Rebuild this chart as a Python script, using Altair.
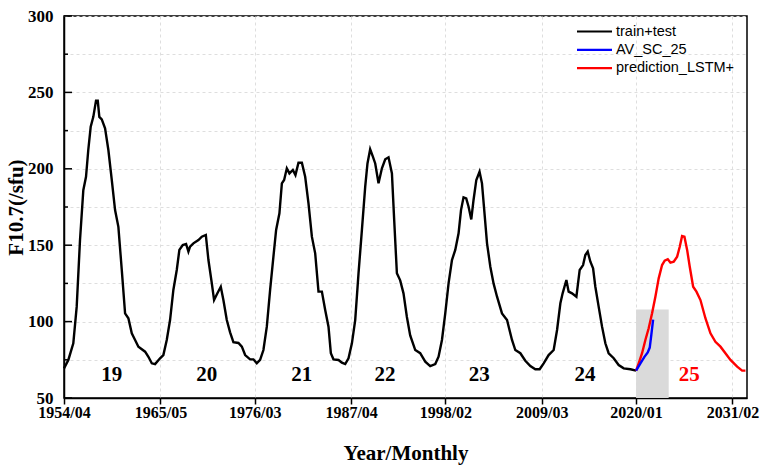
import altair as alt
import pandas as pd

# ---- data (decimal year, F10.7 sfu) ----
train_year = [1954.25, 1954.75, 1955.32, 1955.71, 1956.09, 1956.47, 1956.78, 1957.04, 1957.32, 1957.62,
              1957.93, 1958.13, 1958.31, 1958.59, 1958.97, 1959.35, 1959.74, 1960.12, 1960.50, 1960.89,
              1961.27, 1961.65, 1962.04, 1962.42, 1962.80, 1963.57, 1963.95, 1964.34, 1964.72, 1965.29,
              1965.67, 1966.06, 1966.44, 1966.82, 1967.21, 1967.51, 1967.90, 1968.28, 1968.55, 1968.74,
              1969.12, 1969.70, 1970.09, 1970.55, 1970.85, 1971.24, 1971.50, 1971.88, 1972.27, 1972.57,
              1972.96, 1973.34, 1973.72, 1974.30, 1974.69, 1975.07, 1975.64, 1976.02, 1976.41, 1976.79,
              1977.17, 1977.56, 1977.94, 1978.32, 1978.63, 1979.01, 1979.29, 1979.55, 1979.86, 1980.16,
              1980.55, 1980.85, 1981.20, 1981.59, 1981.97, 1982.35, 1982.74, 1983.12, 1983.50, 1983.89,
              1984.27, 1984.65, 1984.92, 1985.22, 1985.80, 1986.19, 1986.57, 1986.95, 1987.34, 1987.72,
              1988.10, 1988.49, 1988.87, 1989.13, 1989.44, 1989.75, 1990.02, 1990.40, 1990.79, 1991.17,
              1991.55, 1991.94, 1992.20, 1992.51, 1992.89, 1993.27, 1993.66, 1994.04, 1994.62, 1995.19,
              1995.77, 1996.34, 1996.92, 1997.30, 1997.69, 1998.07, 1998.45, 1998.84, 1999.22, 1999.60,
              1999.88, 2000.17, 2000.48, 2000.75, 2001.06, 2001.32, 2001.64, 2002.01, 2002.29, 2002.55,
              2002.87, 2003.25, 2003.62, 2004.02, 2004.59, 2005.17, 2005.74, 2006.12, 2006.70, 2007.27,
              2007.85, 2008.42, 2008.92, 2009.38, 2009.95, 2010.53, 2010.92, 2011.30, 2011.56, 2011.99,
              2012.25, 2012.64, 2013.14, 2013.52, 2013.91, 2014.17, 2014.44, 2014.75, 2015.06, 2015.32,
              2015.70, 2016.09, 2016.47, 2016.85, 2017.43, 2018.00, 2018.58, 2019.35, 2020.00]
train_f107 = [69.4, 74.9, 85.8, 109.8, 153.4, 186.0, 194.8, 212.3, 227.6, 234.0,
              244.6, 244.6, 234.0, 232.4, 226.5, 212.3, 192.7, 173.0, 162.0, 133.8,
              105.4, 102.2, 92.3, 88.0, 83.6, 80.3, 77.0, 72.7, 72.2, 76.0,
              78.1, 88.0, 101.0, 120.7, 133.8, 146.9, 150.1, 150.8, 145.8, 149.0,
              151.2, 153.4, 155.6, 156.7, 140.3, 125.0, 114.1, 118.5, 122.8, 114.1,
              101.0, 93.0, 86.5, 86.0, 83.6, 78.1, 75.3, 75.3, 72.7, 74.9,
              81.4, 96.7, 120.7, 142.5, 160.0, 170.9, 190.5, 192.7, 200.3, 197.0,
              199.2, 195.9, 204.0, 204.0, 194.8, 177.4, 155.6, 144.7, 119.6, 119.6,
              107.6, 96.7, 79.3, 75.3, 74.9, 73.1, 72.2, 76.0, 85.8, 101.0,
              131.6, 160.0, 188.3, 203.5, 212.8, 208.0, 203.5, 190.5, 200.3, 206.2,
              207.5, 197.0, 166.5, 131.6, 127.0, 118.5, 103.0, 91.0, 81.4, 79.3,
              73.8, 70.9, 72.2, 77.0, 88.0, 105.4, 125.0, 140.3, 146.9, 157.8,
              173.0, 181.3, 180.6, 175.2, 166.9, 179.6, 192.7, 198.1, 190.5, 173.0,
              151.2, 135.9, 125.0, 116.3, 105.4, 101.0, 88.0, 81.4, 79.3, 74.4,
              70.9, 68.8, 68.8, 72.7, 78.1, 81.4, 94.5, 112.0, 118.5, 127.2,
              119.6, 118.5, 116.3, 133.8, 137.0, 143.6, 145.8, 139.2, 134.9, 122.8,
              109.8, 96.7, 85.8, 79.3, 76.0, 71.6, 69.4, 68.8, 67.9]

pred_year = [2020.00, 2020.30, 2020.69, 2021.07, 2021.45, 2021.84, 2022.22, 2022.60, 2022.99, 2023.29,
             2023.64, 2023.95, 2024.33, 2024.72, 2025.02, 2025.29, 2025.56, 2025.87, 2026.17, 2026.56,
             2026.94, 2027.40, 2027.97, 2028.55, 2029.12, 2029.70, 2030.27, 2030.85, 2031.62, 2032.19,
             2032.57]
pred_f107 = [67.9, 72.7, 79.3, 88.0, 95.6, 105.4, 116.3, 128.3, 137.0, 139.9,
             140.8, 138.6, 139.2, 142.5, 149.0, 156.0, 155.6, 146.9, 135.9, 122.8,
             119.6, 114.1, 102.2, 92.3, 86.8, 83.6, 79.3, 74.9, 70.5, 67.9,
             67.9]

av_year = [2020.00, 2020.50, 2020.96, 2021.34, 2021.57, 2021.76, 2021.96]
av_f107 = [67.9, 72.7, 76.9, 79.8, 83.0, 91.7, 101.3]

series_names = ["train+test", "AV_SC_25", "prediction_LSTM+"]
series_colors = ["black", "blue", "red"]

# shaded window
box_year = [2020.0, 2023.75]
box_f107 = [50, 108]

# cycle labels
cycle_names = ["19", "20", "21", "22", "23", "24"]
cycle_year = [1959.73, 1970.65, 1981.57, 1991.15, 2001.99, 2014.14]
pred_cycle_name = ["25"]
pred_cycle_year = [2026.1]
cycle_label_f107 = 65.2

# axis ticks
tick_years = [1954, 1965, 1976, 1987, 1998, 2009, 2020, 2031]
tick_months = [4, 5, 3, 4, 2, 3, 1, 2]
y_major = [50, 100, 150, 200, 250, 300]
y_minor = [75, 125, 175, 225, 275]

# ---- build tables ----
tick_vals = [y + (m - 1) / 12 for y, m in zip(tick_years, tick_months)]
df_train = pd.DataFrame({"year": train_year, "f107": train_f107, "series": series_names[0]})
df_av = pd.DataFrame({"year": av_year, "f107": av_f107, "series": series_names[1]})
df_pred = pd.DataFrame({"year": pred_year, "f107": pred_f107, "series": series_names[2]})
df_box = pd.DataFrame({"x1": [box_year[0]], "x2": [box_year[1]], "y1": [box_f107[0]], "y2": [box_f107[1]]})
df_cyc = pd.DataFrame({"year": cycle_year, "f107": cycle_label_f107, "name": cycle_names})
df_cyc25 = pd.DataFrame({"year": pred_cycle_year, "f107": cycle_label_f107, "name": pred_cycle_name})
df_major = pd.DataFrame({"f107": y_major})
df_minor = pd.DataFrame({"f107": y_minor})

SERIF = "Liberation Serif"
SANS = "Liberation Sans"
GRID = "#dedede"

x_scale = alt.Scale(domain=[1954.25, 2032.75], nice=False, zero=False)
y_scale = alt.Scale(domain=[50, 300], nice=False, zero=False)

x_axis = alt.Axis(
    values=tick_vals,
    labelExpr="floor(datum.value + 0.001) + '/' + ((round((datum.value - floor(datum.value + 0.001)) * 12) + 1) < 10 ? '0' : '') + (round((datum.value - floor(datum.value + 0.001)) * 12) + 1)",
    title="Year/Monthly",
    grid=True, gridDash=[3, 3], gridColor=GRID, gridWidth=1,
    ticks=True, tickSize=6, tickColor="black", tickWidth=1.5,
    domainColor="black", domainWidth=1.5,
    labelFont=SERIF, labelFontWeight="bold", labelFontSize=16, labelColor="black",
    labelPadding=0, labelFlush=False, labelOverlap=False,
    titleFont=SERIF, titleFontWeight="bold", titleFontSize=21, titleColor="black",
    titlePadding=22,
)
y_axis = alt.Axis(
    values=list(range(50, 301, 25)),
    labelExpr="datum.value % 50 == 0 ? datum.label : ''",
    title="F10.7(/sfu)",
    grid=True, gridDash=[3, 3], gridColor=GRID, gridWidth=1,
    ticks=False,
    domainColor="black", domainWidth=1.5,
    labelFont=SERIF, labelFontWeight="bold", labelFontSize=17, labelColor="black",
    labelPadding=11, labelFlush=False, labelOverlap=False,
    titleFont=SERIF, titleFontWeight="bold", titleFontSize=21, titleColor="black",
    titlePadding=1,
)

color_scale = alt.Scale(domain=series_names, range=series_colors)
legend = alt.Legend(
    title=None, orient="none", legendX=522, legendY=7,
    symbolType="M-2.5,0H2.5", symbolSize=196, symbolStrokeWidth=2.2,
    labelFont=SANS, labelFontSize=14.5, labelColor="black", labelOffset=13,
    rowPadding=3.3,
)

X = alt.X("year:Q", scale=x_scale, axis=x_axis)
Y = alt.Y("f107:Q", scale=y_scale, axis=y_axis)

box = alt.Chart(df_box).mark_rect(color="#dadada").encode(
    x=alt.X("x1:Q", scale=x_scale, axis=x_axis), x2="x2:Q",
    y=alt.Y("y1:Q", scale=y_scale, axis=y_axis), y2="y2:Q",
)

def line(df):
    return alt.Chart(df).mark_line(strokeWidth=2.4).encode(
        x=X, y=Y,
        color=alt.Color("series:N", scale=color_scale, legend=legend),
    )

major_ticks = alt.Chart(df_major).mark_rule(color="black", strokeWidth=1.5).encode(
    x=alt.value(0), x2=alt.value(8), y=Y)
minor_ticks = alt.Chart(df_minor).mark_rule(color="black", strokeWidth=1.5).encode(
    x=alt.value(0), x2=alt.value(4), y=Y)

cyc = alt.Chart(df_cyc).mark_text(font=SERIF, fontWeight="bold", fontSize=21, color="black",
                                  baseline="middle", align="center").encode(x=X, y=Y, text="name:N")
cyc25 = alt.Chart(df_cyc25).mark_text(font=SERIF, fontWeight="bold", fontSize=21, color="red",
                                      baseline="middle", align="center").encode(x=X, y=Y, text="name:N")

chart = alt.layer(
    box, line(df_train), line(df_pred), line(df_av), major_ticks, minor_ticks, cyc, cyc25
).properties(
    width=683, height=382,
    autosize=alt.AutoSizeParams(type="none"),
    padding={"left": 64, "top": 16, "right": 13, "bottom": 68},
    background="white",
).configure_view(stroke="black", strokeWidth=1.5)

chart.save("out.html", embed_options={"renderer": "svg", "actions": False})
